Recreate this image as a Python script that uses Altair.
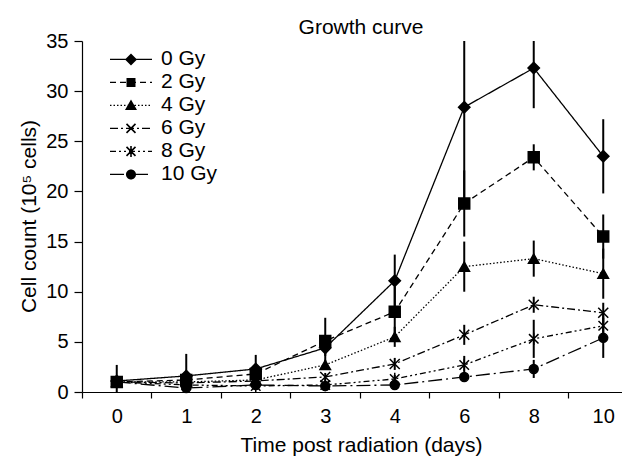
import math
import altair as alt
import pandas as pd

days = ["0", "1", "2", "3", "4", "6", "8", "10"]
series = ["0 Gy", "2 Gy", "4 Gy", "6 Gy", "8 Gy", "10 Gy"]

gy0 = [1.1, 1.6, 2.3, 4.4, 11.1, 28.4, 32.3, 23.5]
gy0_err = [1.6, 2.2, 1.4, 0.8, 2.6, 10.0, 4.0, 3.7]
gy2 = [1.0, 1.2, 1.8, 5.1, 8.0, 18.8, 23.4, 15.5]
gy2_err = [0.3, 0.4, 0.5, 2.3, 2.5, 3.3, 1.3, 2.2]
gy4 = [1.0, 1.0, 1.2, 2.7, 5.5, 12.5, 13.3, 11.8]
gy4_err = [0.2, 0.3, 0.3, 0.5, 1.0, 2.5, 1.8, 2.5]
gy6 = [1.0, 0.9, 1.1, 1.5, 2.8, 5.7, 8.7, 7.9]
gy6_err = [0.2, 0.2, 0.2, 0.4, 0.6, 1.0, 0.8, 1.0]
gy8 = [1.0, 0.7, 0.6, 0.7, 1.3, 2.7, 5.3, 6.6]
gy8_err = [0.2, 0.2, 0.2, 0.2, 0.4, 0.9, 1.9, 1.2]
gy10 = [1.0, 0.4, 0.7, 0.6, 0.7, 1.5, 2.3, 5.4]
gy10_err = [0.2, 0.2, 0.2, 0.2, 0.3, 0.4, 0.9, 2.0]

values = [gy0, gy2, gy4, gy6, gy8, gy10]
errors = [gy0_err, gy2_err, gy4_err, gy6_err, gy8_err, gy10_err]

rows = []
for s, vals, errs in zip(series, values, errors):
    for i, (d, v, e) in enumerate(zip(days, vals, errs)):
        rows.append({"series": s, "day": d, "idx": i, "count": v,
                     "lo": v - e, "hi": v + e})
df = pd.DataFrame(rows)

# ---- styles ----
dashes = [[1, 0], [6, 4], [1.5, 2], [8, 3, 2, 3], [6, 3, 2, 3, 2, 3], [14, 4, 2, 4]]
X_PATH = "M-1,-1L1,1M-1,1L1,-1"
AST_PATH = "M-1,-1L1,1M-1,1L1,-1M0,-1.3L0,1.3"
shapes = ["diamond", "square", "triangle-up", X_PATH, AST_PATH, "circle"]
sizes = [130, 80, 110, 90, 100, 90]

HALF = 21.0  # legend symbol half-width in px


def u(px):
    return px / HALF


def poly(pts):
    # enforce a single winding direction so overlapping pieces all fill
    area = sum(pts[i][0] * pts[(i + 1) % len(pts)][1] - pts[(i + 1) % len(pts)][0] * pts[i][1]
               for i in range(len(pts)))
    if area < 0:
        pts = pts[::-1]
    return "M" + "L".join(f"{u(x):.3f},{u(y):.3f}" for x, y in pts) + "Z"


def bar(x1, y1, x2, y2, w):
    dx, dy = x2 - x1, y2 - y1
    L = math.hypot(dx, dy)
    nx, ny = -dy / L * w / 2, dx / L * w / 2
    return poly([(x1 + nx, y1 + ny), (x2 + nx, y2 + ny), (x2 - nx, y2 - ny), (x1 - nx, y1 - ny)])


def dash_path(pattern, w=1.3):
    segs = []
    x = -HALF
    i = 0
    while x < HALF - 1e-6:
        L = pattern[i % len(pattern)]
        x2 = min(x + L, HALF)
        if i % 2 == 0 and x2 > x:
            segs.append(bar(x, 0, x2, 0, w))
        x = x2
        i += 1
    return "".join(segs)


def circle(r):
    a = u(r)
    return f"M{-a:.3f},0A{a:.3f},{a:.3f},0,1,1,{a:.3f},0A{a:.3f},{a:.3f},0,1,1,{-a:.3f},0Z"


markers = [
    poly([(-6, 0), (0, -6), (6, 0), (0, 6)]),
    poly([(-4.5, -4.5), (4.5, -4.5), (4.5, 4.5), (-4.5, 4.5)]),
    poly([(0, -6), (6, 4.5), (-6, 4.5)]),
    bar(-4.5, -4.5, 4.5, 4.5, 1.6) + bar(-4.5, 4.5, 4.5, -4.5, 1.6),
    bar(-4.5, -4.5, 4.5, 4.5, 1.6) + bar(-4.5, 4.5, 4.5, -4.5, 1.6) + bar(0, -5.5, 0, 5.5, 1.6),
    circle(5),
]
leg_paths = [dash_path(p) + m for p, m in zip(dashes, markers)]

label_expr = "[" + ",".join(f"'{d}'" for d in days) + "][round(datum.value)]"

xscale = alt.Scale(domain=[-0.5, 7.27], nice=False, zero=False)
yscale = alt.Scale(domain=[0, 35], nice=False, clamp=True)

axis_ticks = alt.Axis(values=[i - 0.5 for i in range(8)], labels=False, tickSize=6,
                      domain=True, grid=False, title=None, orient="bottom",
                      domainColor="black", tickColor="black", tickWidth=1.2, domainWidth=1.2)
axis_labels = alt.Axis(values=list(range(8)), ticks=False, tickSize=0, domain=False,
                       grid=False, orient="bottom", labelExpr=label_expr,
                       labelFontSize=20, labelBaseline="alphabetic", labelPadding=30,
                       labelColor="black", title="Time post radiation (days)",
                       titleFontSize=21, titleFontWeight="normal", titleColor="black",
                       titleBaseline="alphabetic", titleY=59, titleX=279)
yaxis = alt.Axis(values=list(range(0, 36, 5)), tickSize=8, labelPadding=6,
                 labelFontSize=20, labelColor="black", grid=False,
                 domainColor="black", tickColor="black", tickWidth=1.2, domainWidth=1.2,
                 title="Cell count (10\u2075 cells)", titleFontSize=21,
                 titleFontWeight="normal", titleColor="black",
                 titleX=-47, titleY=175, titleBaseline="alphabetic", titleAngle=-90)

base = alt.Chart(df)

errs = base.mark_rule(color="black", strokeWidth=2).encode(
    x=alt.X("idx:Q", scale=xscale, axis=axis_ticks),
    y=alt.Y("lo:Q", scale=yscale, axis=yaxis),
    y2="hi:Q",
)

lines = base.mark_line(color="black", strokeWidth=1.3).encode(
    x=alt.X("idx:Q", scale=xscale, axis=axis_labels),
    y=alt.Y("count:Q", scale=yscale),
    strokeDash=alt.StrokeDash("series:N", scale=alt.Scale(domain=series, range=dashes),
                              legend=None),
)

points = base.mark_point(filled=True, fill="black", stroke="black", strokeWidth=1.5,
                         opacity=1).encode(
    x=alt.X("idx:Q", scale=xscale, axis=None),
    y=alt.Y("count:Q", scale=yscale),
    shape=alt.Shape("series:N", scale=alt.Scale(domain=series, range=shapes), legend=None),
    size=alt.Size("series:N", scale=alt.Scale(domain=series, range=sizes), legend=None),
)

legend = alt.Legend(
    title=None, orient="none", legendX=28, legendY=7.2, padding=0,
    labelFontSize=21, labelColor="black", labelOffset=9, clipHeight=22.4,
    rowPadding=0, symbolSize=HALF * HALF * 4,
    symbolFillColor="black", symbolStrokeColor="black", symbolStrokeWidth=0,
    symbolOpacity=1,
)

legend_layer = base.transform_filter("false").mark_point(
    filled=True, fill="black", opacity=1).encode(
    x=alt.X("idx:Q", scale=xscale, axis=None),
    y=alt.Y("count:Q", scale=yscale),
    shape=alt.Shape("series:N", scale=alt.Scale(domain=series, range=leg_paths),
                    legend=legend),
)

chart = alt.layer(errs, lines, points, legend_layer).resolve_axis(
    x="independent").resolve_scale(shape="independent").properties(
    width=540, height=351,
    autosize=alt.AutoSizeParams(type="none"),
    padding={"left": 74, "top": 33, "right": 0, "bottom": 64},
    title=alt.TitleParams("Growth curve", fontSize=21, fontWeight="normal", color="black",
                          anchor="middle", frame="group", dx=9, dy=33, offset=9,
                          baseline="alphabetic"),
).configure(font="Liberation Sans").configure_view(stroke=None)

chart.save("out.html", embed_options={"renderer": "svg", "actions": False})
